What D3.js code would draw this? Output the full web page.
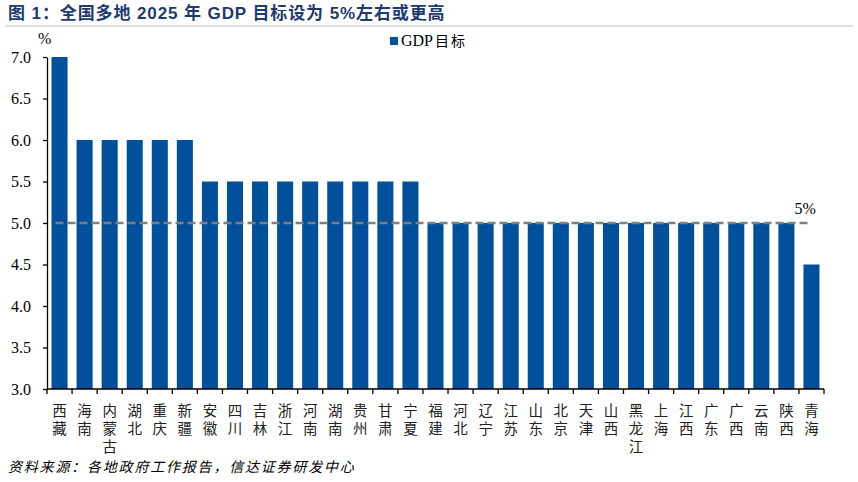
<!DOCTYPE html>
<html><head><meta charset="utf-8">
<script src="https://cdn.jsdelivr.net/npm/d3@7"></script>
<style>body{margin:0;background:#fff}svg{display:block}</style>
</head><body>
<script>
const categories = ["西藏","海南","内蒙古","湖北","重庆","新疆","安徽","四川","吉林","浙江","河南","湖南","贵州","甘肃","宁夏","福建","河北","辽宁","江苏","山东","北京","天津","山西","黑龙江","上海","江西","广东","广西","云南","陕西","青海"];
const gdpTarget = [7,6,6,6,6,6,5.5,5.5,5.5,5.5,5.5,5.5,5.5,5.5,5.5,5,5,5,5,5,5,5,5,5,5,5,5,5,5,5,4.5];
const yTicks = [3.0,3.5,4.0,4.5,5.0,5.5,6.0,6.5,7.0];
const refLine = 5;
const seriesName = "GDP目标";
const title = "图 1：全国多地 2025 年 GDP 目标设为 5%左右或更高";
const source = "资料来源：各地政府工作报告，信达证券研发中心";

const W=858,H=482;
const svg=d3.select("body").append("svg").attr("width",W).attr("height",H);
const serif="'Liberation Serif','Times New Roman',serif";
const cjk="'Noto Sans CJK SC','Noto Sans',sans-serif";

svg.append("text").attr("x",8).attr("y",19).text(title)
  .attr("font-family","'Liberation Sans','Noto Sans CJK SC',sans-serif").attr("font-weight","bold")
  .attr("font-size",17).attr("letter-spacing",0.9).attr("fill","#1F3A6E");
svg.append("line").attr("x1",5).attr("x2",853).attr("y1",26).attr("y2",26).attr("stroke","#bfbfbf").attr("stroke-width",1);

const x=d3.scaleBand().domain(categories).range([47,824]).paddingInner(0.36).paddingOuter(0.18);
const y=d3.scaleLinear().domain([3,7]).range([389,57]);

svg.selectAll("rect.bar").data(gdpTarget).enter().append("rect")
  .attr("x",(d,i)=>x(categories[i])).attr("y",d=>y(d)).attr("width",x.bandwidth())
  .attr("height",d=>y(3)-y(d)).attr("fill","#00509B");

// y axis
const ya=svg.append("g").attr("transform","translate(47,0)")
  .call(d3.axisLeft(y).tickValues(yTicks).tickFormat(d3.format(".1f")).tickSize(4).tickSizeOuter(0));
ya.select(".domain").attr("stroke","#000").attr("stroke-width",1.3);
ya.selectAll(".tick line").attr("stroke","#000").attr("stroke-width",1.3);
ya.selectAll(".tick text").attr("font-family",serif).attr("font-size",16).attr("fill","#000").attr("x",-16);

// x axis with boundary ticks
const xa=svg.append("g").attr("transform","translate(0,389)");
xa.append("line").attr("x1",47).attr("x2",824).attr("stroke","#000").attr("stroke-width",1.3);
const bounds=d3.range(categories.length+1).map(i=>47+i*(777/categories.length));
xa.selectAll("line.t").data(bounds).enter().append("line").attr("class","t")
  .attr("x1",d=>d).attr("x2",d=>d).attr("y1",0).attr("y2",5).attr("stroke","#000").attr("stroke-width",1.3);
xa.selectAll("text.cat").data(categories).enter().append("text").attr("class","cat")
  .attr("font-family",cjk).attr("font-size",14.5).attr("fill","#222")
  .style("writing-mode","vertical-rl").attr("letter-spacing",3.5)
  .attr("x",c=>x(c)+x.bandwidth()/2).attr("y",14).text(c=>c);

// ref line
svg.append("line").attr("x1",x(categories[0])+4).attr("x2",x(categories[categories.length-1])+4)
  .attr("y1",y(refLine)).attr("y2",y(refLine)).attr("stroke","#7f7f7f").attr("stroke-width",2.5).attr("stroke-dasharray","8,4");
svg.append("text").attr("x",x(categories[categories.length-1])-9).attr("y",y(refLine)-9).text(refLine+"%")
  .attr("font-family",serif).attr("font-size",16).attr("fill","#000");

svg.append("text").attr("x",38).attr("y",44).text("%").attr("font-family",serif).attr("font-size",16);

// legend
svg.append("rect").attr("x",390).attr("y",37).attr("width",8).attr("height",8).attr("fill","#00509B");
svg.append("text").attr("x",401).attr("y",46).attr("font-size",16).attr("fill","#000")
  .call(t=>{t.append("tspan").attr("font-family",serif).text("GDP");t.append("tspan").attr("font-family",cjk).attr("dx",2).attr("font-size",14).attr("letter-spacing",2).text("目标");});

svg.append("text").attr("x",8).attr("y",472).text(source).attr("font-family",cjk)
  .attr("font-style","italic").attr("font-size",14).attr("letter-spacing",1.8).attr("fill","#000");
</script>
</body></html>
